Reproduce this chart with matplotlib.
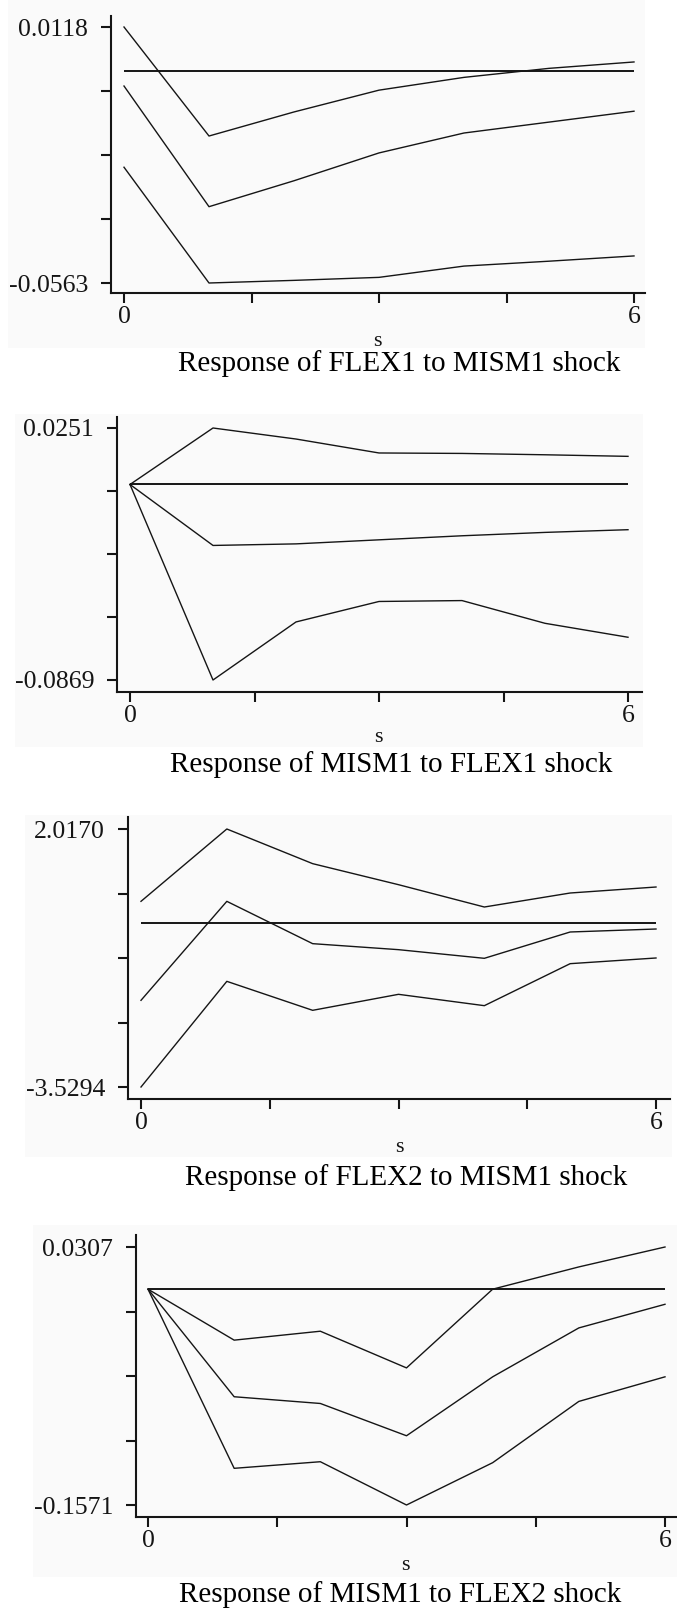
import numpy as np
import matplotlib
matplotlib.use("Agg")
import matplotlib.pyplot as plt
from matplotlib.patches import Rectangle

plt.rcParams["font.family"] = ["Liberation Serif", "DejaVu Serif"]

# ---- impulse responses: lower band, point estimate, upper band ----
steps = [0, 1, 2, 3, 4, 5, 6]

flex1_mism1_upper = [0.0118, -0.0172, -0.0108, -0.0050, -0.0016, 0.0008, 0.0025]
flex1_mism1_mid = [-0.0039, -0.0360, -0.0291, -0.0217, -0.0164, -0.0135, -0.0106]
flex1_mism1_lower = [-0.0255, -0.0563, -0.0556, -0.0548, -0.0518, -0.0505, -0.0491]

mism1_flex1_upper = [0.0, 0.0251, 0.0202, 0.0140, 0.0138, 0.0132, 0.0125]
mism1_flex1_mid = [0.0, -0.0271, -0.0264, -0.0246, -0.0228, -0.0213, -0.0201]
mism1_flex1_lower = [0.0, -0.0869, -0.0611, -0.0520, -0.0516, -0.0617, -0.0679]

flex2_mism1_upper = [0.462, 2.017, 1.272, 0.820, 0.340, 0.641, 0.770]
flex2_mism1_mid = [-1.666, 0.462, -0.448, -0.577, -0.763, -0.197, -0.133]
flex2_mism1_lower = [-3.5294, -1.258, -1.881, -1.537, -1.781, -0.878, -0.756]

mism1_flex2_upper = [0.0, -0.0371, -0.0306, -0.0573, 0.0, 0.0162, 0.0307]
mism1_flex2_mid = [0.0, -0.0783, -0.0832, -0.1067, -0.0638, -0.0282, -0.0110]
mism1_flex2_lower = [0.0, -0.1304, -0.1256, -0.1571, -0.1263, -0.0817, -0.0638]

titles = [
    "Response of FLEX1 to MISM1 shock",
    "Response of MISM1 to FLEX1 shock",
    "Response of FLEX2 to MISM1 shock",
    "Response of MISM1 to FLEX2 shock",
]
y_top_labels = ["0.0118", "0.0251", "2.0170", "0.0307"]
y_bottom_labels = ["-0.0563", "-0.0869", "-3.5294", "-0.1571"]
x_labels = ["0", "6"]
x_name = "s"

series = [
    (flex1_mism1_lower, flex1_mism1_mid, flex1_mism1_upper),
    (mism1_flex1_lower, mism1_flex1_mid, mism1_flex1_upper),
    (flex2_mism1_lower, flex2_mism1_mid, flex2_mism1_upper),
    (mism1_flex2_lower, mism1_flex2_mid, mism1_flex2_upper),
]

# ---- layout in pixels ----
W, H = 677, 1609
# spine box (left, top, right, bottom), x pixel of step 0 and 6,
# y pixel of top and bottom labelled ticks
layout = [
    dict(box=(111, 16, 645, 293), x0=124, x6=634, yt=27, yb=283,
         s=(377, 342), title=(399, 364), bg=(8, 0, 645, 348)),
    dict(box=(117, 417, 642, 692), x0=130, x6=628, yt=428, yb=680,
         s=(378, 738), title=(391, 765), bg=(15, 414, 643, 747)),
    dict(box=(128, 817, 670, 1099), x0=141, x6=656, yt=829, yb=1087,
         s=(399, 1147), title=(406, 1178), bg=(25, 815, 672, 1157)),
    dict(box=(136, 1235, 677, 1517), x0=148, x6=665, yt=1247, yb=1505,
         s=(405, 1565), title=(400, 1595), bg=(33, 1225, 677, 1577)),
]

ink = "#151515"
fig = plt.figure(figsize=(W / 100, H / 100), dpi=100)
fig.patch.set_facecolor("white")

for i, (lay, (lo, mid, up)) in enumerate(zip(layout, series)):
    bx0, by0, bx1, by1 = lay["bg"]
    fig.patches.append(Rectangle((bx0 / W, 1 - by1 / H), (bx1 - bx0) / W, (by1 - by0) / H,
                                 transform=fig.transFigure, facecolor="#fafafa",
                                 edgecolor="none", zorder=-5))

    left, top, right, bottom = lay["box"]
    ax = fig.add_axes([left / W, 1 - bottom / H, (right - left) / W, (bottom - top) / H])
    ax.set_zorder(2)
    ax.patch.set_visible(False)

    vmax = float(y_top_labels[i])
    vmin = float(y_bottom_labels[i])
    xpp = 6 / (lay["x6"] - lay["x0"])
    ax.set_xlim(-(lay["x0"] - left) * xpp, 6 + (right - lay["x6"]) * xpp)
    vpp = (vmax - vmin) / (lay["yb"] - lay["yt"])
    ax.set_ylim(vmin - (bottom - lay["yb"]) * vpp, vmax + (lay["yt"] - top) * vpp)

    ax.plot(steps, [0] * len(steps), color=ink, lw=1.4, solid_capstyle="butt")
    for s_ in (up, mid, lo):
        ax.plot(steps, s_, color=ink, lw=1.0)

    for side in ("top", "right"):
        ax.spines[side].set_visible(False)
    for side in ("left", "bottom"):
        ax.spines[side].set_linewidth(1.5)
        ax.spines[side].set_color(ink)

    yt = np.linspace(vmin, vmax, 5)
    ax.set_yticks(yt)
    ax.set_yticklabels([y_bottom_labels[i], "", "", "", y_top_labels[i]])
    xt = np.linspace(0, 6, 5)
    ax.set_xticks(xt)
    ax.set_xticklabels([x_labels[0], "", "", "", x_labels[1]])
    ax.tick_params(axis="y", direction="out", length=7, width=1.5, color=ink,
                   labelsize=18.5, pad=9.5, labelcolor=ink)
    ax.tick_params(axis="x", direction="out", length=7, width=1.5, color=ink,
                   labelsize=18.5, pad=2.5, labelcolor=ink)

    sx, sy = lay["s"]
    fig.text(sx / W, 1 - sy / H, x_name, ha="center", va="center", fontsize=16, color=ink)
    tx, ty = lay["title"]
    fig.text(tx / W, 1 - ty / H, titles[i], ha="center", va="center", fontsize=21, color="black")

fig.savefig("out.png", dpi=100, facecolor="white")
